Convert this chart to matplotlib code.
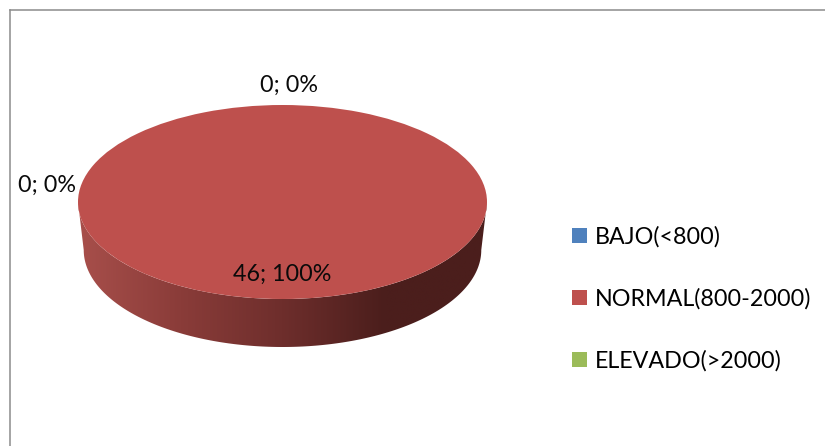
import numpy as np
import matplotlib
matplotlib.use("Agg")
import matplotlib.pyplot as plt
from matplotlib.colors import LinearSegmentedColormap
from matplotlib.lines import Line2D
from matplotlib.patches import Polygon

categories = ["BAJO(<800)", "NORMAL(800-2000)", "ELEVADO(>2000)"]
values = [0, 46, 0]
colors = ["#4F81BD", "#BE504D", "#9BBB59"]
side_stops = ["#A84F4B", "#8A3C39", "#6E2E2C", "#4B1E1C", "#4B1E1C"]

W, H = 825, 446
FS = 16.75
plt.rcParams["font.family"] = ["Lato", "DejaVu Sans"]
fig = plt.figure(figsize=(W / 100, H / 100), dpi=100, facecolor="white")

# Chart frame: only the top and left edges fall inside the canvas
frame = "#8C8C8C"
fig.add_artist(Line2D([9.5 / W, 9.5 / W], [0, 1 - 9.5 / H], color=frame, lw=1.1))
fig.add_artist(Line2D([9.5 / W, 1], [1 - 9.5 / H, 1 - 9.5 / H], color=frame, lw=1.1))

# Axes span one pie radius per unit, which flattens the disc into an ellipse
cx, cy, rx, ry, depth = 282.5, 202, 204.5, 97, 48
ax = fig.add_axes([(cx - rx) / W, 1 - (cy + ry + depth) / H, 2 * rx / W, (2 * ry + depth) / H])

wedges, _ = ax.pie(values, colors=colors, startangle=90, counterclock=False, radius=1,
                   wedgeprops={"linewidth": 0, "zorder": 3})
ax.set_aspect("auto")
d = depth / ry

# Shaded rim under the disc; its lower edge is slightly narrower, as in a perspective view
taper = 0.972
t = np.linspace(np.pi, 2 * np.pi, 200)
xs, ys = np.cos(t), np.sin(t)
rim = np.column_stack([np.r_[xs, taper * xs[::-1]], np.r_[ys, ys[::-1] - d]])
clip = Polygon(rim, closed=True, transform=ax.transData, facecolor="none", edgecolor="none")
ax.add_patch(clip)
cmap = LinearSegmentedColormap.from_list("rim", side_stops)
img = ax.imshow(np.linspace(0, 1, 256)[None, :], cmap=cmap, extent=(-1, 1, -1 - d, 0),
                aspect="auto", zorder=1, interpolation="bilinear")
img.set_clip_path(clip)
ax.set_xlim(-1, 1)
ax.set_ylim(-1 - d, 1)

# Data labels: value and share of the total
total = sum(values)
label_pos = [(289.5, 85), (282, 274), (47, 185)]
for i, (px, py) in enumerate(label_pos):
    fig.text(px / W, 1 - py / H, f"{values[i]}; {round(100 * values[i] / total)}%",
             ha="center", va="center", fontsize=FS, color="#0A0A0A")

# Legend
handles = [plt.Rectangle((0, 0), 1, 1, facecolor=c, edgecolor="none") for c in colors]
fig.legend(handles, categories, loc="upper left", bbox_to_anchor=(562.7 / W, 1 - 216.7 / H),
           frameon=False, fontsize=FS, handlelength=0.645, handleheight=0.645,
           handletextpad=0.34, labelspacing=1.74, borderpad=0.4, borderaxespad=0)

fig.savefig("out.png", dpi=100, facecolor="white")
